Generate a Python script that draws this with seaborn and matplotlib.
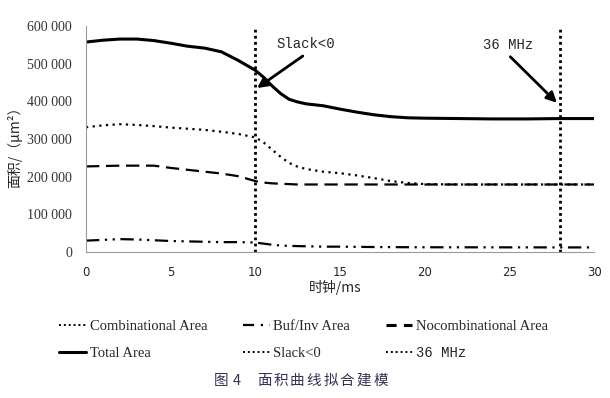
import numpy as np
import pandas as pd
import matplotlib
matplotlib.use("Agg")
import matplotlib.pyplot as plt
import seaborn as sns
from matplotlib.ticker import FuncFormatter
from matplotlib.lines import Line2D

# data (clock in ms, area in um^2)
clock = [0, 1, 2, 3, 4, 5, 6, 7, 8, 9, 10, 10.5, 11, 11.5, 12, 12.5, 13, 14, 15, 16, 17, 18, 19, 20,
         22, 24, 26, 28, 30]
total_area = [557000, 562000, 565000, 565000, 561000, 554000, 546000, 541000, 531000, 508000, 482000,
              463000, 440000, 420000, 405000, 398000, 393000, 388000, 379000, 371000, 364000, 359000,
              356000, 355000, 354000, 353000, 353000, 354000, 354000]
comb_area = [331000, 336000, 339000, 337000, 334000, 330000, 327000, 324000, 319000, 313000, 304000,
             290000, 271000, 252000, 236000, 226000, 220000, 213000, 209000, 203000, 196000, 188000,
             183000, 180000, 179000, 179000, 179000, 179000, 179000]
nocomb_area = [227000, 228000, 229000, 229000, 229000, 223000, 218000, 213000, 208000, 201000, 188000,
               184000, 182000, 181000, 180000, 179000, 179000, 179000, 179000, 179000, 179000, 179000,
               179000, 179000, 179000, 179000, 179000, 179000, 179000]
buf_area = [30000, 32000, 34000, 33000, 31000, 29000, 28000, 27000, 26000, 26000, 25000,
            22000, 19000, 17000, 16000, 15500, 15000, 14000, 14000, 13500, 13000, 12800, 12500,
            12400, 12300, 12200, 12100, 12000, 12000]
slack_clock = 10
mhz_clock = 28

sns.set_style("white")
plt.rcParams['font.family'] = ['Liberation Serif', 'Noto Sans CJK SC', 'DejaVu Sans']

fig = plt.figure(figsize=(6.10, 3.98), dpi=100)
ax = fig.add_axes([0.141, 0.367, 0.833, 0.568])

df = pd.DataFrame({"clock": clock, "total": total_area, "comb": comb_area,
                   "nocomb": nocomb_area, "buf": buf_area})

sns.lineplot(data=df, x="clock", y="comb", ax=ax, color="black", lw=1.6, linestyle=(0, (1, 2)))
sns.lineplot(data=df, x="clock", y="buf", ax=ax, color="black", lw=1.6, linestyle=(0, (6, 2.5, 1, 2.5, 1, 2.5)))
sns.lineplot(data=df, x="clock", y="nocomb", ax=ax, color="black", lw=1.6, linestyle=(0, (6, 3)))
sns.lineplot(data=df, x="clock", y="total", ax=ax, color="black", lw=2.2)
ax.axvline(slack_clock, ymin=0, ymax=1.0, color="black", lw=2, linestyle=(0, (1, 1.2)))
ax.axvline(mhz_clock, ymin=0, ymax=1.0, color="black", lw=2, linestyle=(0, (1, 1.2)))

ax.set_xlim(0, 30)
ax.set_ylim(0, 600000)
ax.set_xticks([0, 5, 10, 15, 20, 25, 30])
ax.set_yticks(np.arange(0, 600001, 100000))
ax.yaxis.set_major_formatter(FuncFormatter(lambda v, p: "0" if v == 0 else f"{int(v):,}".replace(",", " ")))
for lab in ax.get_xticklabels():
    lab.set_family("DejaVu Sans")
    lab.set_fontsize(8.5)
for lab in ax.get_yticklabels():
    lab.set_fontsize(10)
    lab.set_color("#333333")

for s in ["top", "right"]:
    ax.spines[s].set_visible(False)
for s in ["left", "bottom"]:
    ax.spines[s].set_color("#9a9a9a")
    ax.spines[s].set_linewidth(0.8)
ax.tick_params(axis="both", direction="out", length=4, width=0.8, color="#9a9a9a", pad=6)

ax.set_xlabel("时钟/ms", family=["Noto Sans CJK SC"], fontsize=10)
ax.xaxis.set_label_coords(0.49, -0.125)
ax.set_ylabel("面积/（μm²）", family=["Noto Sans CJK SC", "DejaVu Sans"], fontsize=10)
ax.yaxis.set_label_coords(-0.125, 0.48)

# annotations
ax.text(13.0, 553000, "Slack<0", family="Liberation Mono", fontsize=10, ha="center", va="center")
ax.annotate("", xy=(10.1, 435000), xytext=(12.8, 520000),
            arrowprops=dict(arrowstyle="-|>,head_length=0.6,head_width=0.3", color="black", lw=2,
                            shrinkA=0, shrinkB=0))
ax.text(24.9, 550000, "36 MHz", family="Liberation Mono", fontsize=10, ha="center", va="center")
ax.annotate("", xy=(27.8, 396000), xytext=(25.05, 518000),
            arrowprops=dict(arrowstyle="-|>,head_length=0.6,head_width=0.3", color="black", lw=2,
                            shrinkA=0, shrinkB=0))

# legend: three columns placed like the reference
dots = (0, (1, 1.5))
legend_cols = [
    (0.097, [Line2D([], [], color="black", lw=1.4, linestyle=dots),
             Line2D([], [], color="black", lw=2.2)],
     ["Combinational Area", "Total Area"]),
    (0.398, [Line2D([], [], color="black", lw=1.6, linestyle=(0, (5, 3, 1, 3, 1, 3))),
             Line2D([], [], color="black", lw=1.4, linestyle=dots)],
     ["Buf/Inv Area", "Slack<0"]),
    (0.632, [Line2D([], [], color="black", lw=2.2, linestyle=(0, (3.3, 2.4))),
             Line2D([], [], color="black", lw=1.4, linestyle=dots)],
     ["Nocombinational Area", "36 MHz"]),
]
for xpos, hs, ls in legend_cols:
    leg = fig.legend(hs, ls, loc="center left", bbox_to_anchor=(xpos, 0.146), frameon=False,
                     fontsize=10.5, handlelength=1.85, handletextpad=0.25, labelspacing=0.9,
                     borderpad=0, borderaxespad=0)
    if ls[1] == "36 MHz":
        leg.get_texts()[1].set_family("Liberation Mono")
        leg.get_texts()[1].set_fontsize(10)

# caption, characters spread out like the original typesetting
caption = ["图", "4", "面", "积", "曲", "线", "拟", "合", "建", "模"]
cap_x = [221, 237, 264, 281, 297, 314, 331, 347, 364, 381]
for ch, cx in zip(caption, cap_x):
    fig.text(cx / 610, 0.043, ch, family=["Noto Sans CJK SC"], fontsize=10.5,
             ha="center", va="center", color="#333355")

fig.savefig("out.png", dpi=100)
